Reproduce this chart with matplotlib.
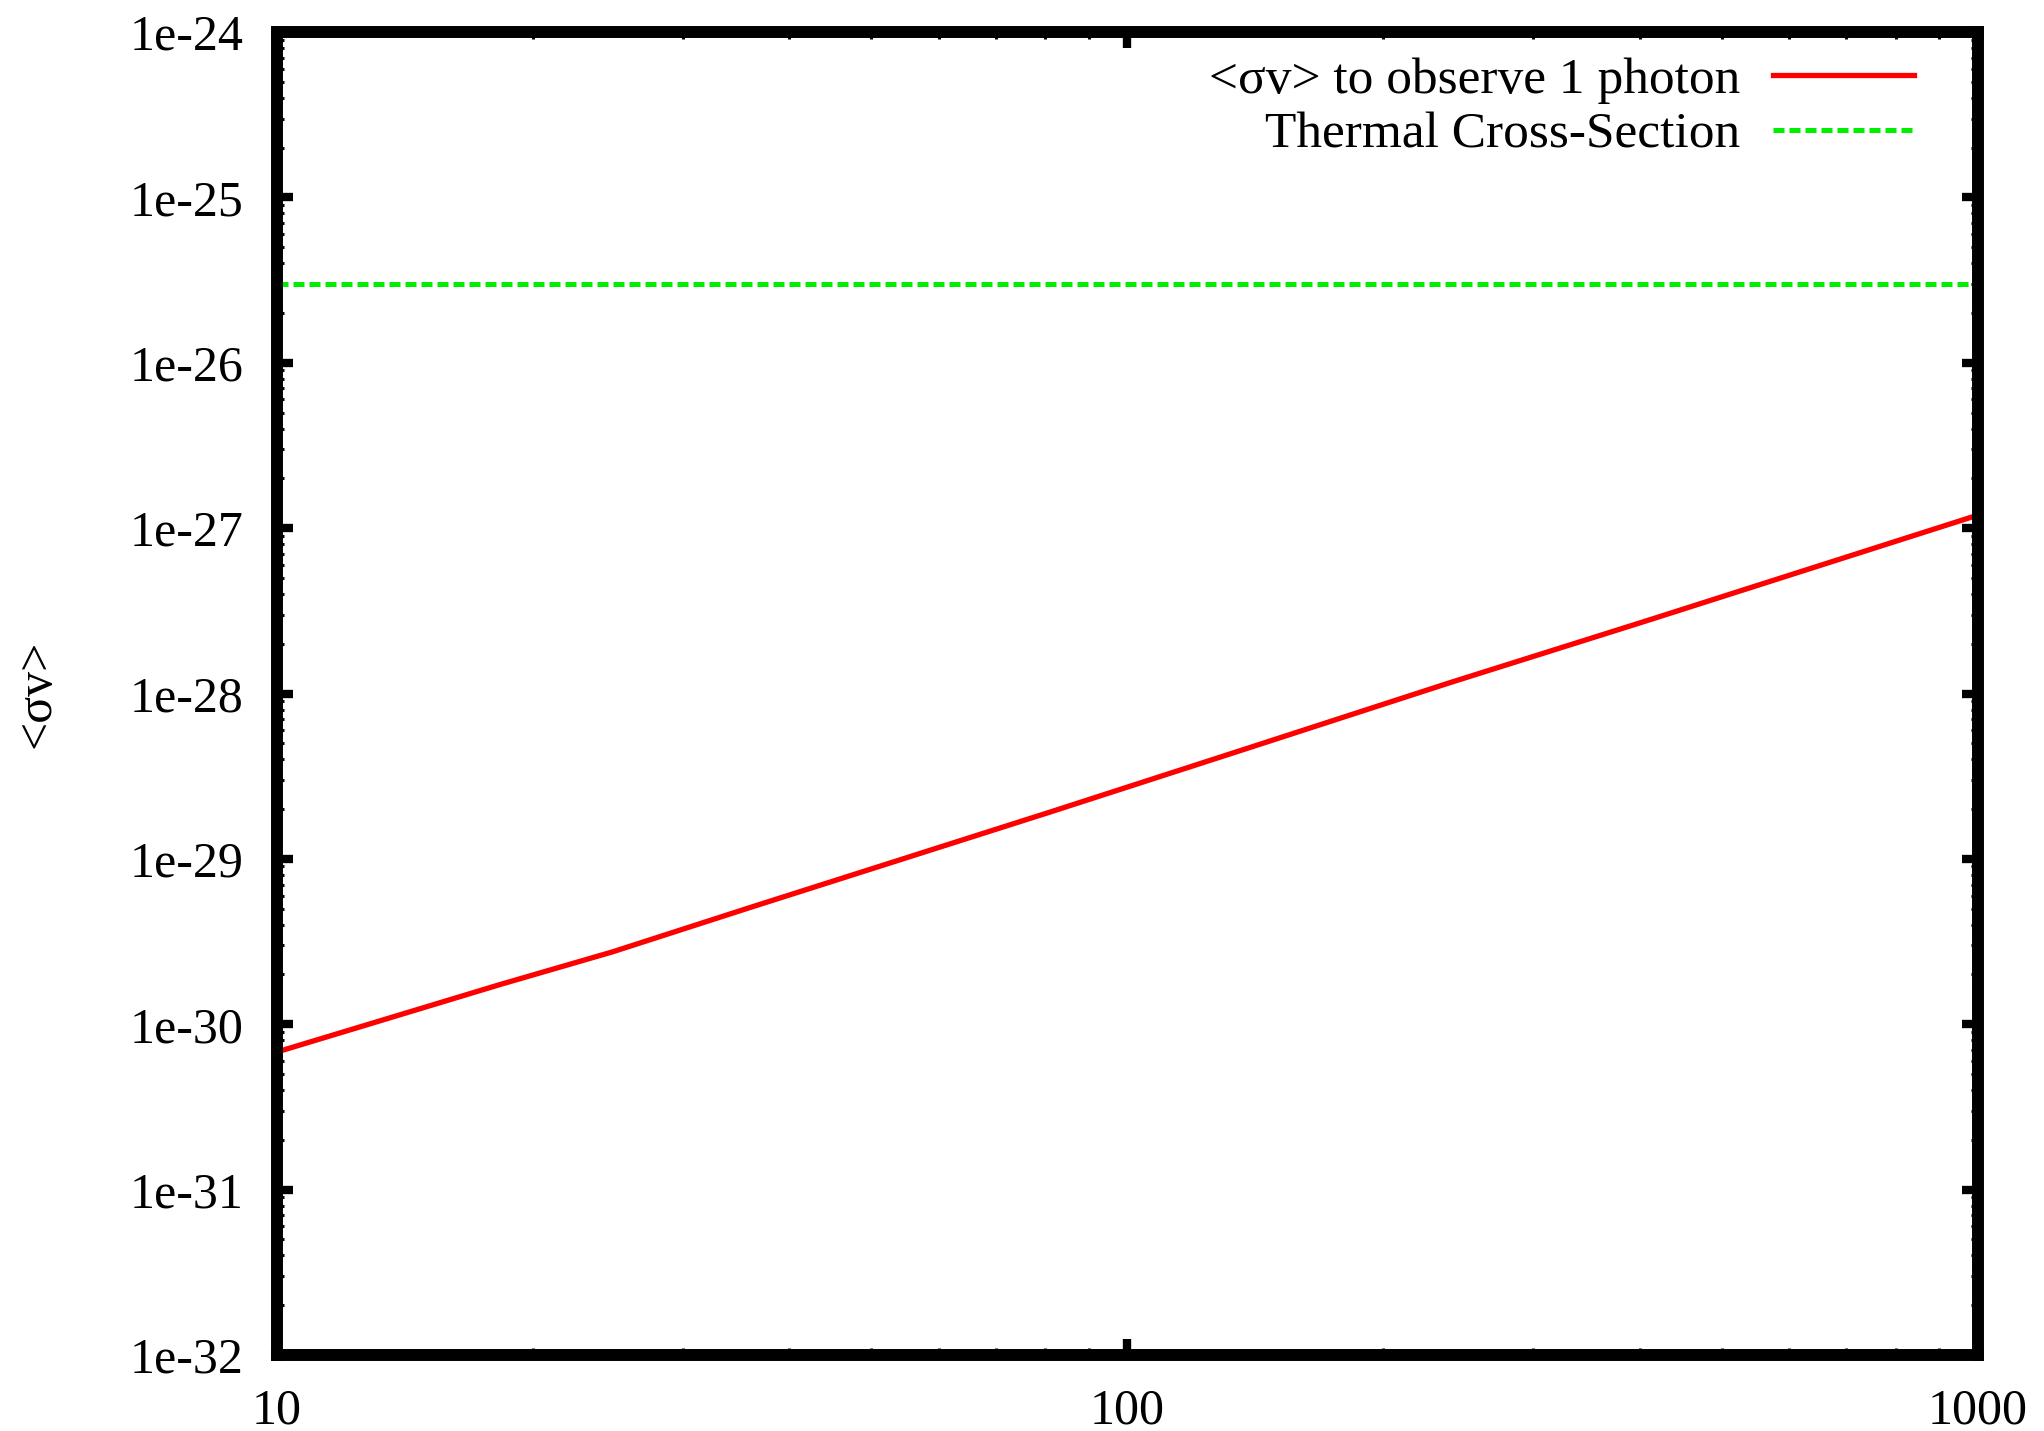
import matplotlib
matplotlib.use('Agg')
import matplotlib.pyplot as plt
from matplotlib.ticker import NullFormatter, LogLocator

# values (WIMP mass vs. <sigma v>)
mass = [10, 18.3, 24.8, 35.9, 81.1, 139, 239, 411, 1000]
sigmav_photon = [6.8e-31, 1.74e-30, 2.74e-30, 5.06e-30,
                 1.92e-29, 4.7e-29, 1.16e-28, 2.79e-28, 1.20e-27]
thermal_xsec = 3e-26

xticks = [10, 100, 1000]
xtick_labels = ['10', '100', '1000']
yticks = [1e-32, 1e-31, 1e-30, 1e-29, 1e-28, 1e-27, 1e-26, 1e-25, 1e-24]
ytick_labels = ['1e-32', '1e-31', '1e-30', '1e-29', '1e-28',
                '1e-27', '1e-26', '1e-25', '1e-24']

plt.rcParams['font.family'] = ['Liberation Serif', 'DejaVu Serif']

fig = plt.figure(figsize=(20.44, 14.31), dpi=100)
ax = fig.add_axes([0.1355, 0.0531, 0.8322, 0.9245])

ax.plot(mass, sigmav_photon, color='#ff0000', lw=3.8,
        label='<σv> to observe 1 photon')
ax.axhline(thermal_xsec, color='#00ee00', lw=3.6, linestyle=(0, (2.2, 1.0)),
           label='Thermal Cross-Section')

ax.set_xscale('log')
ax.set_yscale('log')
ax.set_xlim(10, 1000)
ax.set_ylim(1e-32, 1e-24)

ax.set_xticks(xticks, xtick_labels)
ax.set_yticks(yticks, ytick_labels)
ax.xaxis.set_minor_locator(LogLocator(subs=range(2, 10)))
ax.yaxis.set_minor_locator(LogLocator(subs=range(2, 10), numticks=20))
ax.xaxis.set_minor_formatter(NullFormatter())
ax.yaxis.set_minor_formatter(NullFormatter())

ax.tick_params(which='both', direction='in', top=True, right=True,
               labelsize=36, pad=24)
ax.tick_params(which='major', length=11.5, width=6)
ax.tick_params(which='minor', length=5.2, width=2.2)

for s in ax.spines.values():
    s.set_linewidth(8.6)
    s.set_capstyle('projecting')

ax.set_ylabel('<σv>', fontsize=36)
ax.yaxis.set_label_coords(-0.127, 0.5)

leg = ax.legend(loc='upper right', bbox_to_anchor=(0.9624, 0.981),
                frameon=False, markerfirst=False, fontsize=37,
                borderpad=0, borderaxespad=0, handlelength=2.75,
                handletextpad=0.64, labelspacing=0.15)
# gnuplot style: right-aligned keys
for col in leg._legend_handle_box.get_children():
    col.align = 'right'

fig.savefig('out.png', dpi=100)
